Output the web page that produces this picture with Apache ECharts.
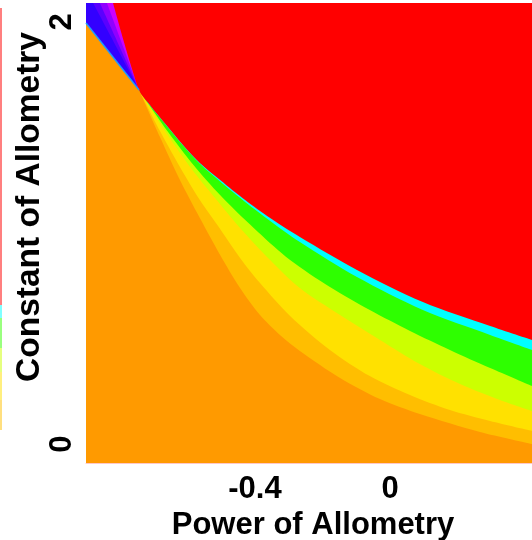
<!DOCTYPE html>
<html>
<head>
<meta charset="utf-8">
<script src="https://cdn.jsdelivr.net/npm/echarts@6/dist/echarts.min.js"></script>
<style>
  html, body { margin: 0; padding: 0; background: #ffffff; }
  #chart { width: 532px; height: 540px; }
</style>
</head>
<body>
<div id="chart"></div>
<script>
// Axis ticks
const xTicks = [-0.4, 0];
const yTicks = [0, 2];

// Region boundaries as [power, constant] points; each region lies above its curve.
// Right-hand fan (bands meeting at the common point near power -0.74)
const lightOrangeEdge = [[-0.743,1.678],[-0.681,1.455],[-0.622,1.251],[-0.563,1.071],[-0.503,0.896],[-0.444,0.739],[-0.385,0.611],[-0.326,0.517],[-0.267,0.441],[-0.148,0.313],[-0.030,0.213],[0.088,0.142],[0.266,0.057],[0.420,0.000]];
const yellowEdge = [[-0.743,1.678],[-0.681,1.483],[-0.622,1.313],[-0.563,1.156],[-0.503,1.019],[-0.444,0.882],[-0.385,0.763],[-0.296,0.607],[-0.178,0.446],[-0.060,0.322],[0.059,0.232],[0.177,0.161],[0.296,0.109],[0.420,0.062]];
const limeEdge = [[-0.743,1.678],[-0.666,1.483],[-0.592,1.313],[-0.518,1.166],[-0.444,1.024],[-0.355,0.872],[-0.267,0.739],[-0.148,0.611],[-0.030,0.493],[0.088,0.379],[0.207,0.284],[0.325,0.208],[0.420,0.156]];
const greenEdge = [[-0.743,1.678],[-0.657,1.479],[-0.577,1.313],[-0.489,1.156],[-0.391,1.005],[-0.296,0.872],[-0.178,0.744],[-0.060,0.635],[0.059,0.536],[0.177,0.446],[0.296,0.360],[0.420,0.275]];
const cyanEdge = [[-0.743,1.678],[-0.711,1.605],[-0.660,1.505],[-0.613,1.415],[-0.563,1.328],[-0.503,1.244],[-0.429,1.147],[-0.355,1.057],[-0.267,0.957],[-0.098,0.791],[0.097,0.635],[0.296,0.517],[0.420,0.446]];
// Left-hand wedge (above the orange field)
const blueEdge = [[-0.900,1.995],[-0.743,1.678]];
const violetEdge = [[-0.879,2.090],[-0.743,1.678]];
const purpleEdge = [[-0.859,2.090],[-0.743,1.678]];
const magentaEdge = [[-0.838,2.090],[-0.743,1.678]];
// Saturated region boundary
const redEdge = [[-0.820,2.090],[-0.743,1.678],[-0.711,1.607],[-0.660,1.507],[-0.613,1.417],[-0.563,1.332],[-0.503,1.251],[-0.429,1.156],[-0.355,1.071],[-0.267,0.981],[-0.098,0.825],[0.097,0.673],[0.296,0.559],[0.420,0.493]];

// Colour key segments (bottom to top)
const keySegments = [30, 28, 24, 30, 13, 297];
const keyColors = ['#FFC000', '#FFE000', '#CCFF00', '#33FF00', '#00FFFF', '#FF0000'];

const FONT = 'Liberation Sans, Arial, Helvetica, sans-serif';

function region(data, color, edgeColor, edgeWidth) {
  return {
    type: 'line',
    data: data,
    symbol: 'none',
    smooth: 0.3,
    silent: true,
    clip: true,
    lineStyle: { width: edgeWidth || 0, color: edgeColor || color },
    areaStyle: { origin: 'end', color: color, opacity: 1 }
  };
}

const keySeries = keySegments.map((v, i) => ({
  type: 'bar',
  xAxisIndex: 1,
  yAxisIndex: 1,
  stack: 'key',
  barWidth: '100%',
  silent: true,
  data: [v],
  itemStyle: { color: keyColors[i], opacity: 0.5 }
}));

const chart = echarts.init(document.getElementById('chart'), null, { renderer: 'canvas' });
chart.setOption({
  animation: false,
  backgroundColor: '#ffffff',
  grid: [
    { left: 86, right: 0, top: 3, bottom: 77, show: true, backgroundColor: '#FF9A00', borderWidth: 0, containLabel: false, outerBoundsMode: 'none' },
    { left: 0, width: 2, top: 8, height: 422, show: false, containLabel: false, outerBoundsMode: 'none' }
  ],
  xAxis: [
    {
      type: 'value', min: -0.9, max: 0.42,
      splitLine: { show: false },
      axisTick: { show: false },
      axisLine: { show: true, onZero: false, lineStyle: { color: '#ffc8c8', width: 1 } },
      axisLabel: {
        customValues: xTicks,
        formatter: v => (v === 0 ? '0' : String(v)),
        color: '#000', fontSize: 31, fontWeight: 'bold', fontFamily: FONT, margin: 11
      },
      name: 'Power of Allometry',
      nameLocation: 'middle',
      nameGap: 47,
      nameTextStyle: { color: '#000', fontSize: 31, fontWeight: 'bold', fontFamily: FONT, padding: [0, 0, 0, 8] }
    },
    { gridIndex: 1, type: 'category', data: ['k'], show: false }
  ],
  yAxis: [
    {
      type: 'value', min: -0.09, max: 2.09,
      splitLine: { show: false },
      axisTick: { show: false },
      axisLine: { show: false },
      axisLabel: {
        customValues: yTicks,
        rotate: 90,
        color: '#000', fontSize: 31, fontWeight: 'bold', fontFamily: FONT, margin: 8
      },
      name: 'Constant of Allometry',
      nameLocation: 'middle',
      nameMoveOverlap: false,
      nameGap: 39,
      nameTextStyle: { color: '#000', fontSize: 33.5, fontWeight: 'bold', fontFamily: FONT, padding: [0, 0, 0, 52] }
    },
    { gridIndex: 1, type: 'value', min: 0, max: 422, show: false }
  ],
  series: [
    region(lightOrangeEdge, '#FFBE00'),
    region(yellowEdge, '#FFE100'),
    region(limeEdge, '#CCFF00'),
    region(greenEdge, '#2EFF00'),
    region(cyanEdge, '#00FFFF'),
    region(blueEdge, '#3300FF', '#1E9BFF', 1.5),
    region(violetEdge, '#5A00FF'),
    region(purpleEdge, '#9000FF'),
    region(magentaEdge, '#CC00FF'),
    region(redEdge, '#FF0000'),
    ...keySeries
  ]
});
</script>
</body>
</html>
